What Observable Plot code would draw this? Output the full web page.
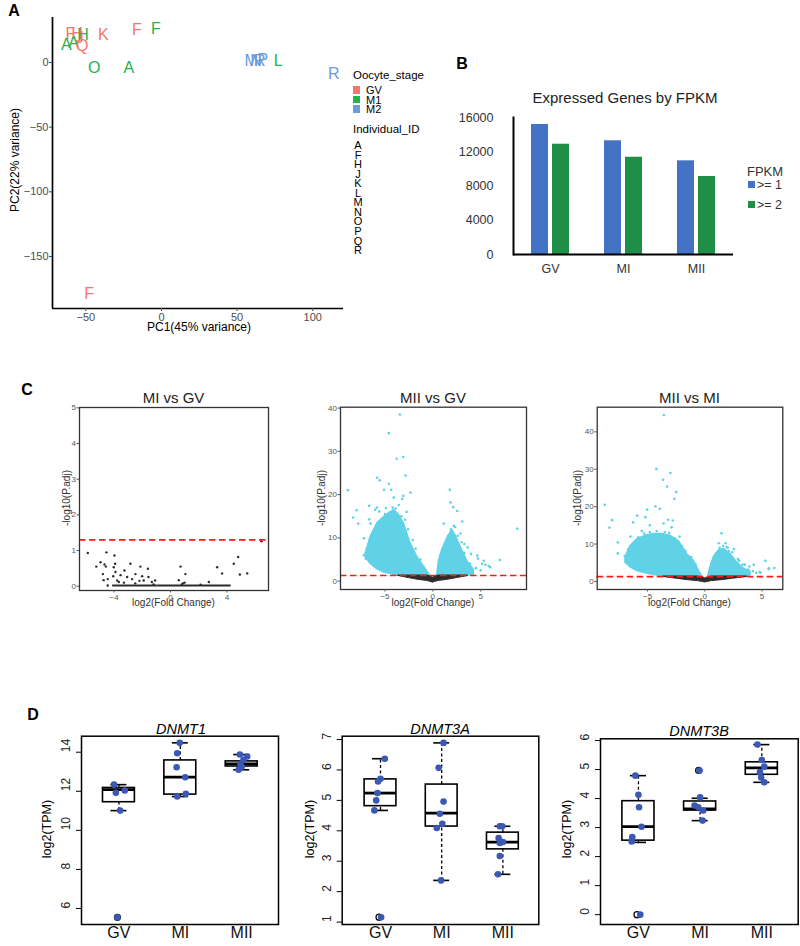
<!DOCTYPE html>
<html><head><meta charset="utf-8">
<script src="https://cdn.jsdelivr.net/npm/d3@7"></script>
<script src="https://cdn.jsdelivr.net/npm/@observablehq/plot@0.6"></script>
<style>
body{margin:0;background:#fff;font-family:"Liberation Sans",Arial,sans-serif;}
#fig{position:relative;width:800px;height:946px;overflow:hidden;background:#fff;}
.abs{position:absolute;white-space:nowrap;line-height:1;}
.pl{position:absolute;}
</style></head><body><div id="fig"></div>
<script>
// ---------- Panel A : PCA ----------
const pcaIds    = ["F","H","H","A","A","Q","J","K","F","F","O","A","M","N","R","P","L","R","F"];
const pcaStages = ["GV","GV","M1","M1","M1","GV","GV","GV","GV","M1","M1","M1","M2","M2","M2","M2","M1","M2","GV"];
const pcaPC1    = [-60.2,-55.8,-51.8,-62.9,-58.0,-52.4,-54.0,-38.4,-16.2,-3.6,-44.4,-21.6,59.3,62.5,64.9,67.0,77.1,113.8,-47.8];
const pcaPC2    = [22.2,22.2,21.6,13.9,15.2,12.6,19.0,21.6,25.2,26.0,-4.4,-4.1,1.5,1.5,1.5,2.0,1.0,-8.8,-179.0];
const stageLevels = ["GV","M1","M2"];
const stageColors = ["#f8766d","#22b34b","#6b9bd8"];
const individualIds = ["A","F","H","J","K","L","M","N","O","P","Q","R"];

// ---------- Panel B : expressed genes ----------
const fpkmStages = ["GV","MI","MII"];
const fpkmGe1 = [15180, 13280, 10940];
const fpkmGe2 = [12880, 11360, 9110];

// ---------- Panel C : volcano plots ----------
// MI vs GV (all non-significant, black)
const v1X = [-5.86,-5.26,-4.96,-4.68,-4.54,-4.58,-4.79,-4.45,-4.74,-4.45,-3.97,-3.92,-4.02,-3.9,-4.06,-3.78,-3.54,-3.26,-3.66,-2.84,-3.07,-2.72,-2.48,-2.13,-2.01,-1.6,-1.9,-1.56,-1.32,-1.09,-3.3,-2.5,-2.2,-1.2,0.71,1.06,0.59,0.89,0.8,1.0,2.13,2.72,3.31,3.66,4.49,4.8,4.92,5.44,6.45];
const v1Y = [0.93,0.55,0.67,0.61,0.95,0.55,0.34,0.2,0.17,0.02,0.86,0.63,0.53,0.4,0.28,0.16,0.31,0.44,0.12,0.63,0.26,0.2,0.34,0.55,0.28,0.49,0.16,0.26,0.12,0.16,0.1,0.08,0.15,0.05,0.55,0.34,0.17,0.08,0.05,0.1,0.04,0.12,0.53,0.36,0.63,0.82,0.33,0.36,1.26];
const v1FloorFrom = [-4.1, -0.9];
const v1FloorTo = [-0.9, 4.3];

// MII vs GV
const v2LeftX  = [-7.03,-6.51,-5.81,-5.12,-4.07,-3.6,-3.03,-2.33,-1.63,-0.94,-0.31];
const v2LeftHi = [6.3,10.2,13.3,14.8,16.4,15.5,13.3,8.7,5.6,3.4,1.4];
const v2LeftLo = [5.5,4.0,2.8,2.0,1.5,1.35,1.35,1.35,1.35,1.35,1.35];
const v2RightX  = [0.46,0.63,0.98,1.5,2.02,2.37,2.89,3.6,4.29];
const v2RightHi = [1.4,4.6,7.2,9.9,11.8,10.6,8.0,4.6,2.6];
const v2RightLo = [1.35,1.35,1.35,1.35,1.35,1.35,1.35,1.35,1.5];
const v2NsX  = [-3.6,-2.5,-1.5,-0.6,-0.25,0,0.25,0.6,1.5,2.5,3.7];
const v2NsLo = [1.2,0.7,0.3,0.05,-0.15,-0.35,-0.15,0.05,0.3,0.7,1.2];
const v2NsHi = [1.3,1.3,1.3,1.3,1.1,0.8,1.1,1.3,1.3,1.3,1.3];
const v2X = [-3.45,-4.6,-3.09,-3.78,-2.85,-5.82,-5.55,-4.6,-8.88,-5.1,-4.35,-2.33,-3.09,-8.33,-7.97,-7.8,-6.65,-6.65,-6.03,-5.85,-4.08,-3.56,-4.9,-5.6,-3.2,-2.75,-6.5,-7.2,8.82,1.78,1.85,2.13,2.55,3.07,3.64,4.64,4.71,5.33,5.85,7.0,1.15,2.33,3.3,4.0,2.9,5.15,
  -6.9,-6.6,-6.2,-5.9,-5.5,-5.0,-4.6,-4.2,-3.9,-3.3,-2.9,-2.6,-2.1,-1.8,-1.3,-7.2,-7.0,0.8,1.2,1.6,1.9,2.2,2.6,3.0,3.3,3.9,4.5,5.0,5.5,6.0];
const v2Y = [38.5,34.2,28.7,28.3,24.4,23.9,23.3,22.5,21.0,21.1,21.1,20.5,19.7,14.7,16.4,13.3,14.3,17.4,16.5,17.0,19.3,17.6,16.9,16.1,19.0,16.0,13.3,9.9,12.1,21.1,18.2,17.1,16.2,13.8,7.8,5.9,5.2,4.7,3.5,4.9,13.3,12.5,8.6,6.3,11.0,4.0,
  7.5,9.0,11.5,12.5,14.0,15.5,15.8,17.0,16.8,15.0,14.2,12.0,9.5,7.5,5.0,6.0,5.2,6.0,8.5,10.5,12.0,12.8,10.5,9.0,6.5,4.0,3.0,2.5,3.8,3.2];

// MII vs MI
const v3LeftX  = [-6.93,-6.49,-5.9,-5.18,-4.46,-3.73,-3.0,-2.27,-1.54,-0.96,-0.52,-0.24];
const v3LeftHi = [6.4,9.5,11.3,12.2,12.7,12.7,12.2,10.8,7.3,5.5,2.9,1.5];
const v3LeftLo = [5.0,3.8,2.8,2.2,1.7,1.4,1.4,1.4,1.4,1.4,1.4,1.4];
const v3RightX  = [0.3,0.5,0.79,1.23,1.67,2.25,2.83,3.41,4.0];
const v3RightHi = [1.5,3.9,6.5,8.3,8.7,7.3,5.1,3.4,2.6];
const v3RightLo = [1.4,1.4,1.4,1.4,1.4,1.4,1.4,1.4,1.6];
const v3NsX  = [-3.6,-2.5,-1.5,-0.6,-0.25,0.05,0.3,0.6,1.5,2.5,3.7];
const v3NsLo = [1.2,0.75,0.35,0.1,-0.1,-0.27,-0.1,0.1,0.35,0.75,1.2];
const v3NsHi = [1.34,1.34,1.34,1.34,1.1,0.8,1.1,1.34,1.34,1.34,1.34];
const v3X = [-3.58,-4.23,-3.0,-3.64,-3.29,-2.5,-2.65,-8.74,-8.1,-8.33,-7.6,-7.6,-6.26,-5.9,-5.04,-4.31,-3.93,-5.19,-2.8,-2.9,-3.2,-3.6,-4.8,-5.5,-6.5,-2.2,1.46,1.23,1.81,2.55,2.1,3.9,4.28,5.3,5.59,6.08,4.87,4.5,1.0,2.0,3.0,3.5,
  -7.0,-6.7,-6.3,-5.8,-5.3,-4.8,-4.2,-3.5,-3.1,-2.6,-2.0,-1.7,-1.2,-0.8,0.6,0.9,1.3,1.6,1.9,2.4,2.9,3.3,3.8,4.2,4.8,5.6];
const v3Y = [44.5,30.1,29.0,27.2,25.4,23.9,22.1,20.5,16.4,14.4,10.4,7.5,15.8,17.6,19.2,20.1,19.4,17.2,16.3,14.5,16.5,15.5,15.0,13.5,12.0,12.0,12.9,10.2,10.2,8.7,8.1,4.0,4.5,5.5,3.3,3.6,2.3,2.3,7.5,9.0,5.5,4.5,
  6.8,8.5,10.0,11.8,12.8,13.2,13.5,13.2,13.0,11.5,9.5,8.2,6.5,4.5,4.8,7.0,9.0,9.5,9.2,7.8,6.0,4.5,3.2,2.8,2.5,3.5];

// ---------- Panel D : DNMT boxplots ----------
const boxStages = ["GV","MI","MII"];
// [lower whisker, Q1, median, Q3, upper whisker] per stage
const dnmt1Stats  = [[11.01,11.44,12.09,12.17,12.34],[11.73,11.83,12.72,13.58,14.48],[13.1,13.27,13.4,13.53,13.88]];
const dnmt3aStats = [[4.67,4.81,5.24,5.69,6.37],[2.37,4.14,4.58,5.52,6.89],[2.57,3.39,3.63,3.94,4.15]];
const dnmt3bStats = [[2.49,2.55,3.03,3.91,4.79],[3.24,3.59,3.64,3.9,4.01],[4.56,4.82,5.06,5.25,5.86]];
const dnmt1OutX = [1], dnmt1OutY = [5.55];
const dnmt3aOutX = [1], dnmt3aOutY = [1.16];
const dnmt3bOutX = [1, 2], dnmt3bOutY = [0, 4.97];
const dnmt1PtX = [0.92,0.95,1.095,1.02,0.975,1.99,1.95,1.94,2.08,1.95,2.09,2.97,3.09,2.98,2.95,3.03,3.0];
const dnmt1PtY = [12.34,11.92,12.04,11.01,5.55,14.48,13.95,13.23,12.72,11.73,11.87,13.88,13.78,13.41,13.1,13.61,13.25];
const dnmt3aPtX = [1.07,1.0,0.96,0.95,0.93,0.9,1.01,2.03,1.95,2.03,1.97,2.01,1.92,1.99,2.95,2.99,2.93,2.95,3.0,2.95,2.92];
const dnmt3aPtY = [6.37,5.71,5.62,5.24,5.0,4.67,1.16,6.89,6.07,4.96,4.56,4.23,4.09,2.37,4.15,4.15,3.76,3.6,3.63,3.17,2.57];
const dnmt3bPtX = [0.95,1.0,1.01,1.05,0.9,0.89,1.03,1.99,2.0,1.91,2.05,2.04,1.97,2.93,3.0,3.04,2.97,2.99,3.04];
const dnmt3bPtY = [4.79,4.13,3.7,3.03,2.67,2.52,0.0,4.97,4.04,3.76,3.59,3.24,3.7,5.86,5.33,5.1,4.91,4.73,4.56];

// =================== drawing ===================
const FONT = '"Liberation Sans", Arial, Helvetica, sans-serif';
const fig = document.getElementById("fig");

function place(node, left, top) {
  const w = document.createElement("div");
  w.className = "pl"; w.style.left = left + "px"; w.style.top = top + "px";
  w.appendChild(node); fig.appendChild(w);
}
function label(text, x, y, o = {}) {
  const d = document.createElement("div");
  d.className = "abs";
  d.textContent = text;
  d.style.left = x + "px"; d.style.top = y + "px";
  const tx = o.anchor === "left" ? "0" : (o.anchor === "right" ? "-100%" : "-50%");
  d.style.transform = `translate(${tx},-50%)` + (o.rotate ? ` rotate(${o.rotate}deg)` : "");
  d.style.fontSize = (o.size || 12) + "px";
  d.style.color = o.color || "#000";
  if (o.bold) d.style.fontWeight = "bold";
  if (o.italic) d.style.fontStyle = "italic";
  fig.appendChild(d);
  return d;
}
function swatch(x, y, w, h, color) {
  const d = document.createElement("div");
  d.className = "abs";
  Object.assign(d.style, {left: x + "px", top: y + "px", width: w + "px", height: h + "px", background: color});
  fig.appendChild(d);
}
const zip3 = (xs, los, his) => xs.map((x, i) => ({x, lo: los[i], hi: his[i]}));

// ---- Panel A
const pcaRows = pcaIds.map((id, i) => ({id, stage: pcaStages[i], pc1: pcaPC1[i], pc2: pcaPC2[i]}));
const A_X = [-72, 120.3], A_Y = [-190.2, 34.8];
place(Plot.plot({
  width: 350, height: 340, marginLeft: 52, marginTop: 17, marginRight: 7, marginBottom: 32,
  x: {domain: A_X}, y: {domain: A_Y},
  color: {domain: stageLevels, range: stageColors},
  style: {fontFamily: FONT, color: "#4d4d4d", background: "transparent", overflow: "visible"},
  marks: [
    Plot.ruleX([A_X[0]], {stroke: "black", strokeWidth: 1.7}),
    Plot.ruleY([A_Y[0]], {stroke: "black", strokeWidth: 1.7}),
    Plot.axisX({ticks: [-50, 0, 50, 100], tickSize: 3, tickPadding: 2, fontSize: 11, label: null}),
    Plot.axisY({ticks: [0, -50, -100, -150], tickSize: 3, tickPadding: 1, fontSize: 11, label: null}),
    Plot.text(pcaRows, {x: "pc1", y: "pc2", text: "id", fill: "stage", fontSize: 16})
  ]
}), 0, 0);
label("A", 14, 11, {size: 16, bold: true});
label("PC1(45% variance)", 199, 327, {size: 12});
label("PC2(22% variance)", 15, 160, {size: 12, rotate: -90});
label("Oocyte_stage", 353, 76, {anchor: "left", size: 11.5});
stageLevels.forEach((s, i) => {
  swatch(353, 86 + i * 9.7, 7, 7.5, stageColors[i]);
  label(s, 366, 90 + i * 9.5, {anchor: "left", size: 11});
});
label("Individual_ID", 353, 130, {anchor: "left", size: 11.5});
individualIds.forEach((s, i) => label(s, 358, 145 + i * 9.55, {size: 11}));

// ---- Panel B
const fpkmRows = fpkmStages.map((s, i) => ({stage: s, ge1: fpkmGe1[i], ge2: fpkmGe2[i]}));
place(Plot.plot({
  width: 300, height: 180, marginLeft: 73, marginTop: 12, marginRight: 7, marginBottom: 31,
  x: {domain: fpkmStages, paddingInner: 0.48, paddingOuter: 0.245},
  y: {domain: [0, 16000]},
  style: {fontFamily: FONT, color: "#333", background: "transparent", overflow: "visible"},
  marks: [
    Plot.barY(fpkmRows, {x: "stage", y: "ge1", fill: "#4472c4", insetRight: 21}),
    Plot.barY(fpkmRows, {x: "stage", y: "ge2", fill: "#1f8f47", insetLeft: 21}),
    Plot.frame({anchor: "left", stroke: "black", strokeWidth: 2}),
    Plot.ruleY([0], {stroke: "black", strokeWidth: 2}),
    Plot.axisY({ticks: [0, 4000, 8000, 12000, 16000], tickFormat: d => String(d), tickSize: 0, tickPadding: 20, fontSize: 12.5, label: null}),
    Plot.axisX({tickSize: 0, tickPadding: 10, fontSize: 12.5, label: null})
  ]
}), 440, 105);
label("B", 462, 64, {size: 16, bold: true});
label("Expressed Genes by FPKM", 625, 97, {size: 15, color: "#222"});
label("FPKM", 747, 171, {anchor: "left", size: 13, color: "#333"});
swatch(748, 181, 7, 7, "#4472c4");
label(">= 1", 757, 185, {anchor: "left", size: 12.5, color: "#333"});
swatch(748, 201, 7, 7, "#1f8f47");
label(">= 2", 757, 205, {anchor: "left", size: 12.5, color: "#333"});

// ---- Panel C
const CYAN = "#5fd2e7", DARK = "#2c2c2c";
function volcano(o) {
  const marks = [];
  for (const c of (o.clouds || [])) marks.push(Plot.areaY(c, {x: "x", y1: "lo", y2: "hi", fill: CYAN, stroke: CYAN, strokeWidth: 1.5, curve: "linear"}));
  if (o.ns) marks.push(Plot.areaY(o.ns, {x: "x", y1: "lo", y2: "hi", fill: DARK, stroke: DARK, strokeWidth: 1, curve: "linear"}));
  if (o.floor) marks.push(Plot.ruleY(o.floor, {y: 0.02, x1: "from", x2: "to", stroke: DARK, strokeWidth: 2}));
  marks.push(Plot.dot(o.px.map((x, i) => ({x, y: o.py[i]})), {x: "x", y: "y", r: o.r, fill: o.color}));
  marks.push(Plot.ruleY([1.301], {stroke: "#ff1a1a", strokeWidth: 1.7, strokeDasharray: "6.5,3.5"}));
  marks.push(Plot.frame({stroke: "#333", strokeWidth: 1.3}));
  marks.push(Plot.axisX({ticks: o.xTicks, tickSize: 2.5, tickPadding: 1, fontSize: 8, label: null}));
  marks.push(Plot.axisY({ticks: o.yTicks, tickFormat: d => String(d), tickSize: 2.5, tickPadding: 1, fontSize: 8, label: null}));
  return Plot.plot({
    width: o.width, height: 215, marginLeft: o.ml, marginRight: o.mr, marginTop: o.mt, marginBottom: o.mb,
    x: {domain: o.xDomain}, y: {domain: o.yDomain},
    style: {fontFamily: FONT, color: "#555", background: "transparent", overflow: "visible"},
    marks
  });
}
place(volcano({
  width: 280, ml: 79, mr: 12, mt: 12, mb: 20, xDomain: [-6.45, 6.95], yDomain: [-0.12, 5.01],
  xTicks: [-4, 0, 4], yTicks: [0, 1, 2, 3, 4, 5],
  floor: v1FloorFrom.map((f, i) => ({from: f, to: v1FloorTo[i]})),
  px: v1X, py: v1Y, r: 1.2, color: DARK
}), 0, 395);
place(volcano({
  width: 270, ml: 70, mr: 14, mt: 11.7, mb: 21, xDomain: [-9.65, 9.79], yDomain: [-1.93, 40.2],
  xTicks: [-5, 0, 5], yTicks: [0, 10, 20, 30, 40],
  clouds: [zip3(v2LeftX, v2LeftLo, v2LeftHi), zip3(v2RightX, v2RightLo, v2RightHi)],
  ns: zip3(v2NsX, v2NsLo, v2NsHi),
  px: v2X, py: v2Y, r: 1.3, color: CYAN
}), 270, 395);
place(volcano({
  width: 270, ml: 66.7, mr: 17.7, mt: 11.7, mb: 21, xDomain: [-9.4, 6.82], yDomain: [-2.15, 46.6],
  xTicks: [-5, 0, 5], yTicks: [0, 10, 20, 30, 40],
  clouds: [zip3(v3LeftX, v3LeftLo, v3LeftHi), zip3(v3RightX, v3RightLo, v3RightHi)],
  ns: zip3(v3NsX, v3NsLo, v3NsHi),
  px: v3X, py: v3Y, r: 1.3, color: CYAN
}), 530, 395);
label("C", 27, 390, {size: 16, bold: true});
[["MI vs GV", 173.5], ["MII vs GV", 433], ["MII vs MI", 689.5]].forEach(([t, x]) => {
  label(t, x, 397, {size: 15, color: "#222"});
  label("log2(Fold Change)", x, 603, {size: 10, color: "#333"});
});
[67, 322, 578].forEach(x => label("-log10(P.adj)", x, 498, {size: 10, rotate: -90, color: "#333"}));

// ---- Panel D
function boxPanel(o) {
  const boxes = o.stats.map((s, i) => ({pos: i + 1, lo: s[0], q1: s[1], med: s[2], q3: s[3], hi: s[4]}));
  const hw = 0.26, cw = 0.13;
  const outs = o.outX.map((x, i) => ({x, y: o.outY[i]}));
  const pts = o.ptX.map((x, i) => ({x, y: o.ptY[i]}));
  return Plot.plot({
    width: o.width, height: 246, marginLeft: o.ml, marginRight: o.mr, marginTop: o.mt, marginBottom: 22,
    x: {type: "linear", domain: o.xDomain, axis: null},
    y: {domain: o.yDomain},
    style: {fontFamily: FONT, color: "#000", background: "transparent", overflow: "visible"},
    marks: [
      Plot.ruleX(boxes, {x: "pos", y1: "q3", y2: "hi", stroke: "black", strokeWidth: 1.3, strokeDasharray: "3,2.5"}),
      Plot.ruleX(boxes, {x: "pos", y1: "lo", y2: "q1", stroke: "black", strokeWidth: 1.3, strokeDasharray: "3,2.5"}),
      Plot.ruleY(boxes, {y: "hi", x1: d => d.pos - cw, x2: d => d.pos + cw, stroke: "black", strokeWidth: 1.6}),
      Plot.ruleY(boxes, {y: "lo", x1: d => d.pos - cw, x2: d => d.pos + cw, stroke: "black", strokeWidth: 1.6}),
      Plot.rect(boxes, {x1: d => d.pos - hw, x2: d => d.pos + hw, y1: "q1", y2: "q3", fill: "white", stroke: "black", strokeWidth: 1.6}),
      Plot.ruleY(boxes, {y: "med", x1: d => d.pos - hw, x2: d => d.pos + hw, stroke: "black", strokeWidth: 2.8}),
      Plot.dot(outs, {x: "x", y: "y", r: 3, stroke: "black", strokeWidth: 1.2, fill: "none", dx: -1.5}),
      Plot.dot(pts, {x: "x", y: "y", r: 3.3, fill: "#3a58b4"}),
      Plot.frame({stroke: "black", strokeWidth: 1.5}),
      Plot.axisY({ticks: o.yTicks, tickSize: 5, tickFormat: () => "", label: null}),
      Plot.text(o.yTicks, {y: d => d, text: d => String(d), frameAnchor: "left", dx: -15, rotate: -90, fontSize: 12, fill: "#222"}),
      Plot.text(boxStages, {x: (d, i) => i + 1, text: d => d, frameAnchor: "bottom", dy: 13.5, fontSize: 16, fill: "#111"})
    ]
  });
}
place(boxPanel({width: 290, ml: 81, mr: 12, mt: 35.7, xDomain: [0.39, 3.6], yDomain: [5.18, 14.82], yTicks: [6, 8, 10, 12, 14],
  stats: dnmt1Stats, outX: dnmt1OutX, outY: dnmt1OutY, ptX: dnmt1PtX, ptY: dnmt1PtY}), 0, 700);
place(boxPanel({width: 270, ml: 71.7, mr: 1.7, mt: 35.7, xDomain: [0.374, 3.587], yDomain: [0.92, 7.11], yTicks: [1, 2, 3, 4, 5, 6, 7],
  stats: dnmt3aStats, outX: dnmt3aOutX, outY: dnmt3aOutY, ptX: dnmt3aPtX, ptY: dnmt3aPtY}), 270, 700);
place(boxPanel({width: 270, ml: 70, mr: 2.3, mt: 38.3, xDomain: [0.385, 3.59], yDomain: [-0.34, 6.06], yTicks: [0, 1, 2, 3, 4, 5, 6],
  stats: dnmt3bStats, outX: dnmt3bOutX, outY: dnmt3bOutY, ptX: dnmt3bPtX, ptY: dnmt3bPtY}), 530, 700);
label("D", 33, 715, {size: 16, bold: true});
[["DNMT1", 181, 729], ["DNMT3A", 440, 729], ["DNMT3B", 699, 731]].forEach(([t, x, y]) => label(t, x, y, {size: 14.5, italic: true}));
[47, 310, 567].forEach(x => label("log2(TPM)", x, 829, {size: 12.5, rotate: -90}));
</script></body></html>
